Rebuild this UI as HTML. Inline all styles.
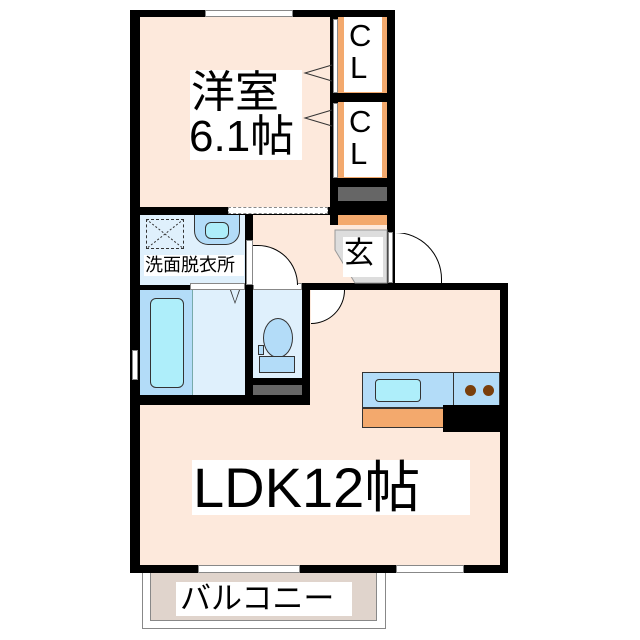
<!DOCTYPE html>
<html><head><meta charset="utf-8"><style>
body{margin:0;background:#fff;}
#c{position:relative;width:640px;height:640px;overflow:hidden;background:#fff;font-family:"Liberation Sans","Noto Sans CJK JP",sans-serif;}
#c div{position:absolute;box-sizing:border-box;}
.k{background:#000}
.t{color:#000;white-space:nowrap;line-height:1}
</style></head><body><div id="c">
<!-- balcony -->
<div style="left:142px;top:570px;width:244px;height:59px;border:1px solid #888;background:#fff"></div>
<div style="left:150px;top:570px;width:227px;height:51px;background:#e0d4cc;border:1px solid #888"></div>
<div style="left:176px;top:582px;width:176px;height:34px;background:#fff"></div>
<div class="t" style="left:180px;top:583px;font-size:31px">バルコニー</div>

<!-- LDK -->
<div class="k" style="left:130px;top:283px;width:378px;height:290px"></div>
<div style="left:140px;top:290px;width:360px;height:275px;background:#fde9dc"></div>
<div class="k" style="left:130px;top:283px;width:180px;height:122px"></div>
<!-- bath -->
<div style="left:140px;top:290px;width:53px;height:105px;background:#b3dcf8;border-right:1px solid #7aa"></div>
<div style="left:150px;top:298px;width:34px;height:90px;background:#aeeefa;border:1px solid #333;border-radius:6px"></div>
<div style="left:193px;top:290px;width:52px;height:105px;background:#dff0fc"></div>
<div style="left:230px;top:290px;width:0;height:0;border-left:5px solid transparent;border-right:5px solid transparent;border-top:14px solid #333"></div>
<div style="left:231px;top:290px;width:0;height:0;border-left:4px solid transparent;border-right:4px solid transparent;border-top:12px solid #dff0fc"></div>
<div style="left:132px;top:350px;width:6px;height:30px;background:#fff;border:1px solid #888"></div>
<!-- toilet -->
<div style="left:253px;top:290px;width:49px;height:88px;background:#dff0fc"></div>
<div style="left:263px;top:318px;width:30px;height:40px;background:#b3dcf8;border:1px solid #333;border-radius:50%"></div>
<div style="left:258px;top:345px;width:6px;height:10px;background:#b3dcf8;border:1px solid #333"></div>
<div style="left:259px;top:356px;width:36px;height:17px;background:#b3dcf8;border:1px solid #333"></div>
<div style="left:253px;top:385px;width:49px;height:10px;background:#666"></div>
<!-- LDK door -->
<div style="left:311px;top:290px;width:34px;height:34px;background:#fff;border-right:1px solid #000;border-bottom:1px solid #000;border-radius:0 0 34px 0"></div>
<div style="left:310px;top:283px;width:45px;height:7px;background:#fff;border:1px solid #888"></div>
<!-- kitchen -->
<div style="left:362px;top:372px;width:92px;height:36px;background:#b3dcf8;border:1px solid #333"></div>
<div style="left:375px;top:379px;width:46px;height:23px;background:#aeeefa;border:1px solid #333;border-radius:4px"></div>
<div style="left:453px;top:372px;width:47px;height:34px;background:#b3dcf8;border:1px solid #333"></div>
<div style="left:465px;top:385px;width:11px;height:11px;background:#7a3f0c;border-radius:50%"></div>
<div style="left:483px;top:385px;width:11px;height:11px;background:#7a3f0c;border-radius:50%"></div>
<div style="left:362px;top:408px;width:82px;height:20px;background:#f3a96d;border:1px solid #333"></div>
<div class="k" style="left:443px;top:405px;width:65px;height:27px"></div>
<!-- LDK windows -->
<div style="left:198px;top:565px;width:102px;height:8px;background:#fff;border:1px solid #888"></div>
<div style="left:396px;top:565px;width:68px;height:8px;background:#fff;border:1px solid #888"></div>
<div style="left:192px;top:460px;width:278px;height:55px;background:#fff"></div>
<div class="t" style="left:193px;top:460px;font-size:56px">LDK12帖</div>

<!-- upper block -->
<div class="k" style="left:130px;top:10px;width:265px;height:280px"></div>
<div style="left:140px;top:17px;width:190px;height:190px;background:#fde9dc"></div>
<div style="left:205px;top:10px;width:88px;height:7px;background:#fff;border:1px solid #888"></div>
<div style="left:228px;top:207px;width:100px;height:7px;background:#fff;border:1px dashed #888"></div>
<div style="left:190px;top:70px;width:112px;height:90px;background:#fff"></div>
<div class="t" style="left:191px;top:71px;font-size:44px">洋室</div>
<div class="t" style="left:189px;top:115px;font-size:44px">6.1帖</div>
<!-- closets -->
<div style="left:333px;top:19px;width:5px;height:74px;background:#fff;border:1px solid #888"></div>
<div style="left:333px;top:103px;width:5px;height:75px;background:#fff;border:1px solid #888"></div>
<div style="left:338px;top:17px;width:49px;height:76px;background:#f3a96d"></div>
<div style="left:344px;top:17px;width:38px;height:75px;background:#fff"></div>
<div style="left:338px;top:102px;width:49px;height:76px;background:#f3a96d"></div>
<div style="left:344px;top:102px;width:38px;height:75px;background:#fff"></div>
<div class="t" style="left:349px;top:20px;font-size:31px">C</div>
<div class="t" style="left:350px;top:52px;font-size:31px">L</div>
<div class="t" style="left:349px;top:106px;font-size:31px">C</div>
<div class="t" style="left:350px;top:138px;font-size:31px">L</div>
<svg style="position:absolute;left:300px;top:55px" width="35" height="80"><polyline points="32,10 5,18 32,26" fill="none" stroke="#333"/><polyline points="32,55 5,63 32,71" fill="none" stroke="#333"/></svg>
<div style="left:338px;top:187px;width:49px;height:14px;background:#666"></div>
<div style="left:338px;top:215px;width:49px;height:10px;background:#f3a96d"></div>
<!-- wash -->
<div style="left:140px;top:215px;width:105px;height:70px;background:#dff0fc"></div>
<div style="left:146px;top:219px;width:38px;height:30px;border:1px dashed #333"></div>
<svg style="position:absolute;left:146px;top:219px" width="38" height="30"><line x1="0" y1="0" x2="38" y2="30" stroke="#333" stroke-dasharray="2 2"/><line x1="38" y1="0" x2="0" y2="30" stroke="#333" stroke-dasharray="2 2"/></svg>
<div style="left:194px;top:215px;width:46px;height:30px;background:#b3dcf8;border:1px solid #333;border-top:none;border-radius:0 0 14px 14px"></div>
<div style="left:205px;top:222px;width:24px;height:17px;background:#aeeefa;border:1px solid #333;border-radius:6px"></div>
<div style="left:144px;top:255px;width:100px;height:21px;background:#fff"></div>
<div class="t" style="left:145px;top:256px;font-size:18px">洗面脱衣所</div>
<div style="left:190px;top:283px;width:55px;height:7px;background:#fff;border:1px solid #888"></div>
<div style="left:253px;top:283px;width:49px;height:7px;background:#fff;border:1px solid #888"></div>
<!-- hallway -->
<div style="left:253px;top:215px;width:77px;height:68px;background:#fde9dc"></div>
<div style="left:330px;top:225px;width:57px;height:58px;background:#fde9dc"></div>
<div style="left:246px;top:240px;width:7px;height:45px;background:#fff;border:1px solid #888"></div>
<div style="left:253px;top:245px;width:45px;height:40px;background:#fff;border-top:1px solid #000;border-right:1px solid #000;border-radius:0 40px 0 0"></div>
<!-- genkan -->
<svg style="position:absolute;left:330px;top:225px" width="60" height="60"><polygon points="5,5 57,5 57,58 25,58 5,25" fill="#ddd" stroke="#999"/><rect x="13" y="12" width="40" height="40" fill="#fff"/></svg>
<div class="t" style="left:344px;top:239px;font-size:30px">玄</div>
<div style="left:388px;top:232px;width:5px;height:51px;background:#fff;border:1px solid #888"></div>
<div style="left:395px;top:232px;width:47px;height:51px;background:#fff;border-top:1px solid #000;border-right:1px solid #000;border-radius:0 47px 0 0"></div>
<div style="left:395px;top:225px;width:20px;height:8px;background:#fff"></div>
</div></body></html>
